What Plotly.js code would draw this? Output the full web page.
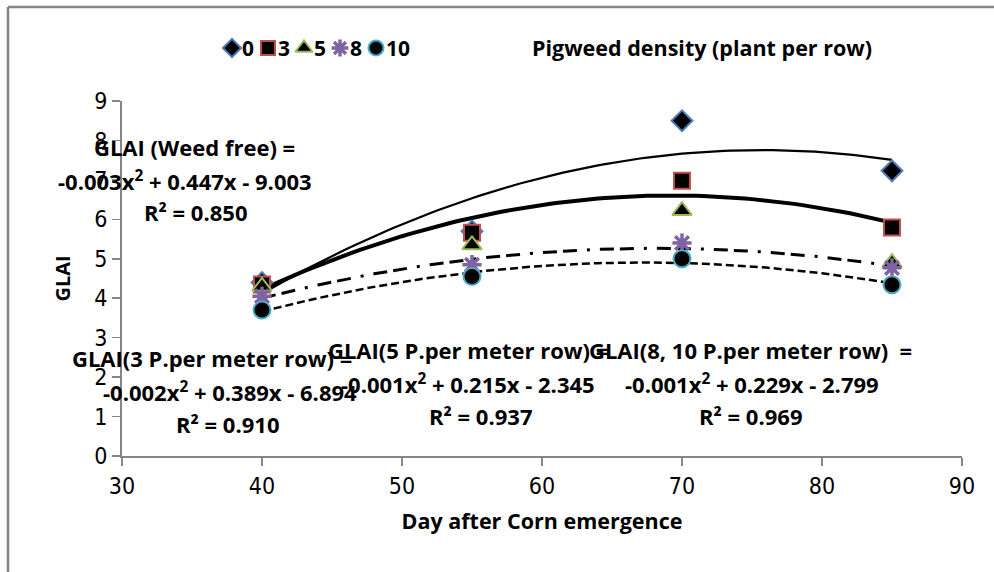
<!DOCTYPE html>
<html>
<head>
<meta charset="utf-8">
<script src="https://cdn.plot.ly/plotly-3.0.1.min.js"></script>
<style>html,body{margin:0;padding:0;background:#fff;}#chart{width:994px;height:572px;}</style>
</head>
<body>
<div id="chart"></div>
<script>
// Data
const days = [40, 55, 70, 85];
const density0 = [4.40, 5.70, 8.50, 7.23];
const density3 = [4.35, 5.66, 6.98, 5.79];
const density5 = [4.30, 5.35, 6.22, 4.90];
const density8 = [4.05, 4.85, 5.40, 4.77];
const density10 = [3.70, 4.55, 5.00, 4.34];
const seriesNames = ['0', '3', '5', '8', '10'];
const xTicks = [30, 40, 50, 60, 70, 80, 90];
const yTicks = [0, 1, 2, 3, 4, 5, 6, 7, 8, 9];

// least-squares quadratic fit (Excel-style polynomial trendline)
function quadFit(xs, ys) {
  let S = [0,0,0,0,0], T = [0,0,0];
  for (let i = 0; i < xs.length; i++) {
    let p = 1;
    for (let k = 0; k < 5; k++) { S[k] += p; if (k < 3) T[k] += p * ys[i]; p *= xs[i]; }
  }
  const A = [[S[0],S[1],S[2],T[0]],[S[1],S[2],S[3],T[1]],[S[2],S[3],S[4],T[2]]];
  for (let c = 0; c < 3; c++) {
    for (let r = c + 1; r < 3; r++) {
      const f = A[r][c] / A[c][c];
      for (let k = c; k < 4; k++) A[r][k] -= f * A[c][k];
    }
  }
  const sol = [0,0,0];
  for (let r = 2; r >= 0; r--) {
    let s = A[r][3];
    for (let k = r + 1; k < 3; k++) s -= A[r][k] * sol[k];
    sol[r] = s / A[r][r];
  }
  return sol;
}
function trend(ys) {
  const c = quadFit(days, ys);
  const xs = [], yv = [];
  const x0 = days[0], x1 = days[days.length - 1];
  for (let i = 0; i <= 90; i++) {
    const x = x0 + (x1 - x0) * i / 90;
    xs.push(x); yv.push(c[0] + c[1] * x + c[2] * x * x);
  }
  return {xs, yv};
}

const FONT = '"Open Sans", "Liberation Sans", sans-serif';
const TICKFONT = '"Liberation Sans Narrow", "DejaVu Sans Condensed", "Liberation Sans", sans-serif';
const traces = [];
const trendStyles = [
  {data: density0, width: 2.2, dash: 'solid'},
  {data: density3, width: 4, dash: 'solid'},
  {data: density8, width: 3, dash: '14px,6px,14px,10px,3px,10px'},
  {data: density10, width: 2.5, dash: '8px,4px'}
];
trendStyles.forEach(t => {
  const tr = trend(t.data);
  traces.push({x: tr.xs, y: tr.yv, mode: 'lines', type: 'scatter', showlegend: false, hoverinfo: 'skip',
    line: {color: '#000', width: t.width, dash: t.dash}});
});

const markerDefs = [
  {data: density0, symbol: 'diamond', size: 16, line: '#4a7ebb', lw: 2},
  {data: density3, symbol: 'square', size: 16, line: '#c0504d', lw: 2},
  {data: density5, symbol: 'triangle-up', size: 17, line: '#9bbb59', lw: 2},
  {data: density8, symbol: 'asterisk', size: 16, line: '#8064a2', lw: 3.5},
  {data: density10, symbol: 'circle', size: 17, line: '#4bacc6', lw: 2}
];
markerDefs.forEach((m, i) => {
  traces.push({x: days, y: m.data, mode: 'markers', type: 'scatter', name: seriesNames[i], showlegend: false,
    marker: {symbol: m.symbol, size: m.size, color: '#000', opacity: 1, line: {color: m.line, width: m.lw}}});
});
// legend keys (one swatch per series) on a hidden overlay axis
const legendIdx = seriesNames.map((_, i) => i);
traces.push({x: legendIdx, y: legendIdx.map(() => 0), xaxis: 'x2', yaxis: 'y2', mode: 'markers', type: 'scatter',
  showlegend: false, hoverinfo: 'skip', cliponaxis: false,
  marker: {symbol: markerDefs.map(m => m.symbol), size: markerDefs.map(m => m.size - 2), color: '#000', opacity: 1,
    line: {color: markerDefs.map(m => m.line), width: markerDefs.map(m => m.lw)}}});

// geometry
const L = 122, PW = 840, TOP = 20, PLOT_TOP = 101, BOT = 456;
const PH = BOT - TOP;
function px(x) { return (x - L) / PW; }
function py(y) { return (BOT - y) / PH; }
const KEY0 = 232, KEYSTEP = 36;

const ann = [];
function addText(text, cx, cy) {
  ann.push({text: text, xref: 'paper', yref: 'paper', x: px(cx), y: py(cy), xanchor: 'center', yanchor: 'middle',
    showarrow: false, font: {family: FONT, size: 22, color: '#000', weight: 'bold'}});
}
addText('GLAI (Weed free) =', 194, 147);
addText('-0.003x<sup>2</sup> + 0.447x - 9.003', 185, 180);
addText('R² = 0.850', 195, 212);
addText('GLAI(3 P.per meter row) =', 212, 358);
addText('-0.002x<sup>2</sup> + 0.389x - 6.894', 230, 391);
addText('R² = 0.910', 227, 424);
addText('GLAI(5 P.per meter row) =', 468, 350);
addText('-0.001x<sup>2</sup> + 0.215x - 2.345', 468, 383);
addText('R² = 0.937', 480, 416);
addText('GLAI(8, 10 P.per meter row)  =', 750, 350);
addText('-0.001x<sup>2</sup> + 0.229x - 2.799', 752, 383);
addText('R² = 0.969', 750, 416);
seriesNames.forEach((n, i) => {
  ann.push({text: n, xref: 'x2', yref: 'y2', x: i, y: 0, xanchor: 'left', yanchor: 'middle', xshift: 8,
    showarrow: false, font: {family: FONT, size: 21, color: '#000', weight: 'bold'}});
});
ann.push({text: 'Pigweed density (plant per row)', xref: 'paper', yref: 'paper', x: px(530), y: py(48),
  xanchor: 'left', yanchor: 'middle', showarrow: false,
  font: {family: FONT, size: 21.5, color: '#000', weight: 'bold'}});

const layout = {
  width: 994, height: 572,
  margin: {l: L, r: 994 - L - PW, t: TOP, b: 572 - BOT},
  paper_bgcolor: '#fff', plot_bgcolor: 'rgba(0,0,0,0)',
  showlegend: false,
  xaxis: {range: [30, 90], tickvals: xTicks, ticks: 'outside', ticklen: 8, tickcolor: '#868686', tickwidth: 1.5,
    showline: true, linecolor: '#868686', linewidth: 2, showgrid: false, zeroline: false,
    tickfont: {family: TICKFONT, size: 23, color: '#000'},
    title: {text: 'Day after Corn emergence', standoff: 16,
      font: {family: FONT, size: 21.5, color: '#000', weight: 'bold'}}},
  yaxis: {range: [0, 9], domain: [0, (BOT - PLOT_TOP) / PH], tickvals: yTicks, ticks: 'outside', ticklen: 8,
    tickcolor: '#868686', tickwidth: 1.5,
    showline: true, linecolor: '#868686', linewidth: 2, showgrid: false, zeroline: false,
    tickfont: {family: TICKFONT, size: 23, color: '#000'},
    title: {text: 'GLAI', standoff: 18,
      font: {family: FONT, size: 20, color: '#000', weight: 'bold'}}},
  xaxis2: {domain: [0, 1], anchor: 'y2', range: [-(KEY0 - L) / KEYSTEP, (L + PW - KEY0) / KEYSTEP], visible: false, fixedrange: true},
  yaxis2: {domain: [py(60), py(36)], anchor: 'x2', range: [-1, 1], visible: false, fixedrange: true},
  annotations: ann,
  shapes: [
    {type: 'line', xref: 'paper', yref: 'paper', x0: px(8), y0: (BOT - 7) / PH, x1: px(1000), y1: (BOT - 7) / PH,
      line: {color: '#868686', width: 2.5}},
    {type: 'line', xref: 'paper', yref: 'paper', x0: px(8), y0: (BOT - 7) / PH, x1: px(8), y1: -1,
      line: {color: '#868686', width: 2.5}}
  ]
};
Plotly.newPlot('chart', traces, layout, {displayModeBar: false, staticPlot: true});
</script>
</body>
</html>
